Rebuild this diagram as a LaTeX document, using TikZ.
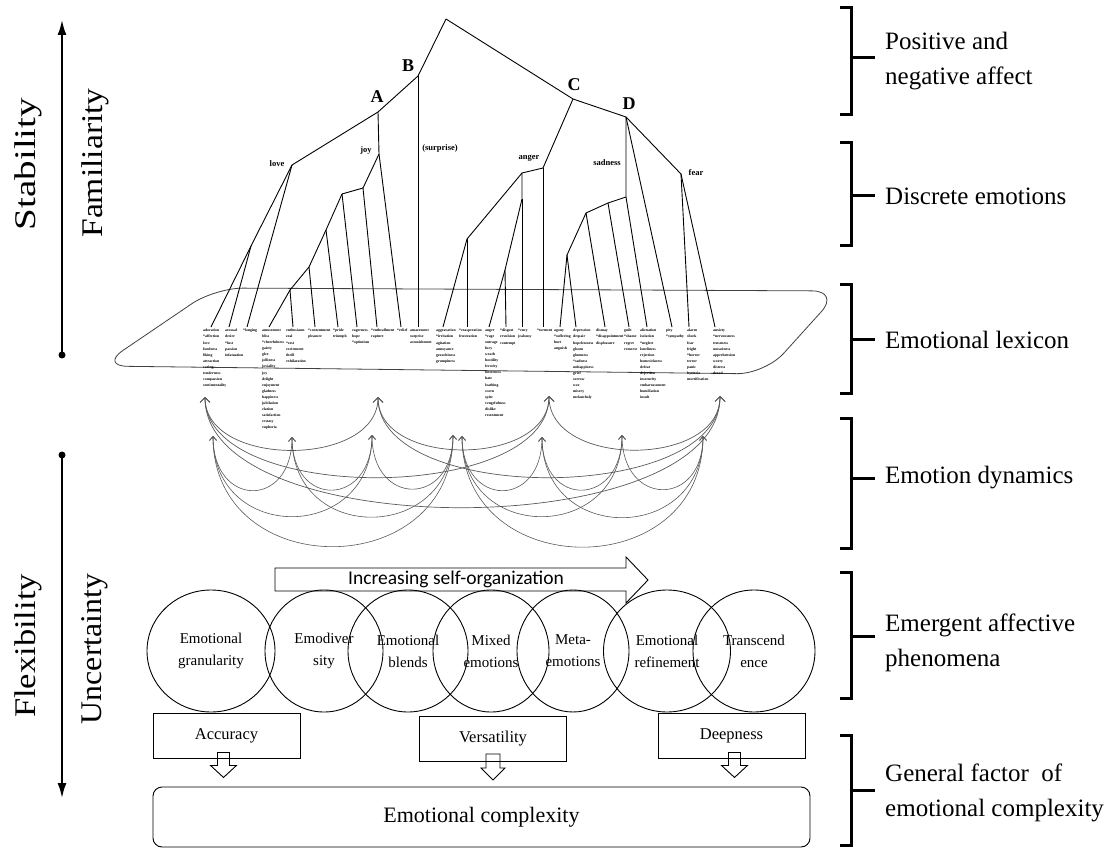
\documentclass[tikz,border=0pt]{standalone}
\usepackage{fontspec}
\usepackage{graphicx}
\setmainfont{Liberation Serif}
\newfontfamily\calib{Carlito}
\usetikzlibrary{arrows.meta,calc,shapes.geometric}
\begin{document}
\begin{tikzpicture}[x=1pt,y=-1pt,
  tree/.style={line width=0.9pt},
  tlbl/.style={font=\fontsize{8.5}{9}\selectfont\bfseries, inner sep=0},
  bigl/.style={font=\fontsize{18}{20}\selectfont\bfseries, inner sep=0},
  lex/.style={font=\fontsize{3.8}{6.1}\selectfont\bfseries, align=left, anchor=north west, inner sep=0},
  arcU/.style={draw=black!65, line width=0.7pt, {Straight Barb[length=5pt,width=10pt]}-{Straight Barb[length=5pt,width=10pt]}},
  arcL/.style={draw=black!65, line width=0.6pt, {Straight Barb[length=4pt,width=7pt]}-{Straight Barb[length=4pt,width=7pt]}},
  circ/.style={draw, ellipse, line width=0.9pt, minimum height=122pt, inner sep=0, align=center, font=\fontsize{15}{22}\selectfont},
  sbox/.style={draw, line width=0.9pt, minimum width=147pt, minimum height=45pt, inner sep=0, font=\fontsize{16.5}{18}\selectfont},
  rlbl/.style={anchor=west, align=left, inner sep=0, font=\fontsize{25}{35}\selectfont},
  llbl/.style={rotate=90, inner sep=0, font=\fontsize{30}{32}\selectfont},
  brk/.style={line width=3pt},
  dotn/.style={circle, fill=black, minimum size=7pt, inner sep=0},
  hol/.style={line width=0.9pt}
]
\useasboundingbox (0,0) rectangle (1114,850);

% ---------- lexicon plane ----------
\draw[line width=0.8pt, draw=black!75, rounded corners=28pt]
  (215,288) -- (840,291) -- (765,374) -- (100,366) -- cycle;

% ---------- tree coordinates ----------
\coordinate (root) at (446,19);
\coordinate (B) at (418,76);
\coordinate (A) at (378,112);
\coordinate (love) at (292,165);
\coordinate (joyN) at (379,154);
\coordinate (C) at (573,99);
\coordinate (D) at (626,117);
\coordinate (angerN) at (543,168);
\coordinate (S0) at (626,197);
\coordinate (fearN) at (681,174);
\coordinate (L1) at (251,246);
\coordinate (J1) at (363,188);
\coordinate (J2) at (342,194);
\coordinate (J3) at (326,230);
\coordinate (J4) at (309,267);
\coordinate (J5) at (290,290);
\coordinate (N1) at (522,173);
\coordinate (N2) at (467,239);
\coordinate (N3) at (522,199);
\coordinate (N4) at (505,270);
\coordinate (S1) at (608,203);
\coordinate (S2) at (586,213);
\coordinate (S3) at (567,255);
\foreach \n/\x in {1/211,2/229,3/247,4/269,5/293,6/315,7/338,8/357,9/377,10/401,11/418,12/443,13/467,14/489,15/506,16/522,17/543,18/560,19/576,20/605,21/629,22/647,23/672,24/689,25/715}
  \coordinate (e\n) at (\x,327);

% ---------- tree edges ----------
\draw[tree] (root) -- (B) -- (A) -- (love);
\draw[tree] (love) -- (L1); \draw[tree] (L1) -- (e1); \draw[tree] (L1) -- (e2); \draw[tree] (love) -- (e3);
\draw[tree] (A) -- (joyN) -- (J1) -- (J2) -- (J3) -- (J4) -- (J5);
\draw[tree] (joyN) -- (e10); \draw[tree] (J1) -- (e9); \draw[tree] (J2) -- (e8);
\draw[tree] (J3) -- (e7); \draw[tree] (J4) -- (e6); \draw[tree] (J5) -- (e4); \draw[tree] (J5) -- (e5);
\draw[tree] (B) -- (e11);
\draw[tree] (root) -- (C) -- (D);
\draw[tree] (C) -- (angerN) -- (N1) -- (N2); \draw[tree] (angerN) -- (e17);
\draw[tree] (N1) -- (N3) -- (N4); \draw[tree] (N2) -- (e12); \draw[tree] (N2) -- (e13);
\draw[tree] (N3) -- (e16); \draw[tree] (N4) -- (e14); \draw[tree] (N4) -- (e15);
\draw[tree] (D) -- (S0) -- (S1) -- (S2) -- (S3);
\draw[tree] (S0) -- (e22); \draw[tree] (S1) -- (e21); \draw[tree] (S2) -- (e20);
\draw[tree] (S3) -- (e18); \draw[tree] (S3) -- (e19);
\draw[tree] (D) -- (e23); \draw[tree] (D) -- (fearN);
\draw[tree] (fearN) -- (e24); \draw[tree] (fearN) -- (e25);

% ---------- tree labels ----------
\node[bigl] (labA) at (377,97) {A};
\node[bigl] (labB) at (408,66) {B};
\node[bigl] (labC) at (574,85) {C};
\node[bigl] (labD) at (629,104) {D};
\node[tlbl] (tlove) at (277,164) {love};
\node[tlbl] (tjoy) at (366,150) {joy};
\node[tlbl] (tsur) at (440,148) {(surprise)};
\node[tlbl] (tang) at (529,158) {anger};
\node[tlbl] (tsad) at (607,163) {sadness};
\node[tlbl] (tfear) at (696,173) {fear};

% ---------- lexicon words ----------
\node[lex] (w1) at (203,329) {adoration\\*affection\\love\\fondness\\liking\\attraction\\caring\\tenderness\\compassion\\sentimentality};
\node[lex] (w2) at (225,329) {arousal\\desire\\*lust\\passion\\infatuation};
\node[lex] (w3) at (243,329) {*longing};
\node[lex] (w4) at (262,329) {amusement\\bliss\\*cheerfulness\\gaiety\\glee\\jolliness\\joviality\\joy\\delight\\enjoyment\\gladness\\happiness\\jubilation\\elation\\satisfaction\\ecstasy\\euphoria};
\node[lex] (w5) at (286,329) {enthusiasm\\zeal\\*zest\\excitement\\thrill\\exhilaration};
\node[lex] (w6) at (308,329) {*contentment\\pleasure};
\node[lex] (w7) at (333,329) {*pride\\triumph};
\node[lex] (w8) at (352,329) {eagerness\\hope\\*optimism};
\node[lex] (w9) at (371,329) {*enthrallment\\rapture};
\node[lex] (w10) at (397,329) {*relief};
\node[lex] (w11) at (410,329) {amazement\\surprise\\astonishment};
\node[lex] (w12) at (436,329) {aggravation\\*irritation\\agitation\\annoyance\\grouchiness\\grumpiness};
\node[lex] (w13) at (459,329) {*exasperation\\frustration};
\node[lex] (w14) at (485,329) {anger\\*rage\\outrage\\fury\\wrath\\hostility\\ferocity\\bitterness\\hate\\loathing\\scorn\\spite\\vengefulness\\dislike\\resentment};
\node[lex] (w15) at (500,329) {*disgust\\revulsion\\contempt};
\node[lex] (w16) at (518,329) {*envy\\jealousy};
\node[lex] (w17) at (537,329) {*torment};
\node[lex] (w18) at (554,329) {agony\\*suffering\\hurt\\anguish};
\node[lex] (w19) at (573,329) {depression\\despair\\hopelessness\\gloom\\glumness\\*sadness\\unhappiness\\grief\\sorrow\\woe\\misery\\melancholy};
\node[lex] (w20) at (596,329) {dismay\\*disappointment\\displeasure};
\node[lex] (w21) at (624,329) {guilt\\*shame\\regret\\remorse};
\node[lex] (w22) at (640,329) {alienation\\isolation\\*neglect\\loneliness\\rejection\\homesickness\\defeat\\dejection\\insecurity\\embarrassment\\humiliation\\insult};
\node[lex] (w23) at (666,329) {pity\\*sympathy};
\node[lex] (w24) at (687,329) {alarm\\shock\\fear\\fright\\*horror\\terror\\panic\\hysteria\\mortification};
\node[lex] (w25) at (713,329) {anxiety\\*nervousness\\tenseness\\uneasiness\\apprehension\\worry\\distress\\dread};

% ---------- emotion dynamics ----------
\coordinate (U1) at (205,397); \coordinate (U2) at (378,397);
\coordinate (U3) at (549,396); \coordinate (U4) at (720,396);
\coordinate (P1) at (213,436); \coordinate (P2) at (292,437);
\coordinate (P3) at (372,435); \coordinate (P4) at (453,435);
\coordinate (P5) at (462,436); \coordinate (P6) at (542,437);
\coordinate (P7) at (622,435); \coordinate (P8) at (703,436);
\draw[arcU] (U1) .. controls +(0,71) and +(0,71) .. (U2);
\draw[arcU] (U2) .. controls +(0,71) and +(0,71) .. (U3);
\draw[arcU] (U3) .. controls +(0,72) and +(0,72) .. (U4);
\draw[arcU] (U1) .. controls +(0,108) and +(0,108) .. (U3);
\draw[arcU] (U2) .. controls +(0,108) and +(0,108) .. (U4);
\draw[arcU] (U1) .. controls +(0,148) and +(0,148) .. (U4);
\draw[arcL] (P1) .. controls +(0,72) and +(0,72) .. (P2);
\draw[arcL] (P2) .. controls +(0,72) and +(0,72) .. (P3);
\draw[arcL] (P3) .. controls +(0,72) and +(0,72) .. (P4);
\draw[arcL] (P5) .. controls +(0,72) and +(0,72) .. (P6);
\draw[arcL] (P6) .. controls +(0,72) and +(0,72) .. (P7);
\draw[arcL] (P7) .. controls +(0,72) and +(0,72) .. (P8);
\draw[arcL] (P1) .. controls +(0,108) and +(0,108) .. (P3);
\draw[arcL] (P2) .. controls +(0,108) and +(0,108) .. (P4);
\draw[arcL] (P5) .. controls +(0,108) and +(0,108) .. (P7);
\draw[arcL] (P6) .. controls +(0,108) and +(0,108) .. (P8);
\draw[arcL] (P1) .. controls +(0,148) and +(0,148) .. (P4);
\draw[arcL] (P5) .. controls +(0,148) and +(0,148) .. (P8);

% ---------- self-organization arrow ----------
\draw[line width=0.9pt] (275,568) -- (626,568) -- (626,557) -- (648,580) -- (626,603) -- (626,591) -- (275,591) -- cycle;
\node[inner sep=0, font=\calib\fontsize{19.5}{20}\selectfont] (selforg) at (456,579) {Increasing self-organization};

% ---------- circles ----------
\node[circ, minimum width=128pt] (c1) at (211,651) {Emotional\\granularity};
\node[circ, minimum width=118pt] (c2) at (324,651) {Emodiver\\sity};
\node[circ, minimum width=120pt] (c3) at (408,651) {Emotional\\blends};
\node[circ, minimum width=116pt] (c4) at (491,651) {Mixed\\emotions};
\node[circ, minimum width=112pt] (c5) at (573,651) {Meta-\\emotions};
\node[circ, minimum width=127pt] (c6) at (667,651) {Emotional\\refinement};
\node[circ, minimum width=122pt] (c7) at (754,651) {Transcend\\ence};

% ---------- factor boxes ----------
\node[sbox] (acc) at (226.5,735.5) {Accuracy};
\node[sbox] (vers) at (493,739) {Versatility};
\node[sbox] (deep) at (731.5,735.5) {Deepness};
\node[draw, line width=0.9pt, rounded corners=9pt, minimum width=657pt, minimum height=60pt, inner sep=0, font=\fontsize{22}{24}\selectfont] (ec) at (481.5,817) {Emotional complexity};
\draw[hol] ($(acc.south)+(-3,0)$) ++(-6,-6) -- ++(0,13) -- ++(-7,0) -- ++(13,12) -- ++(13,-12) -- ++(-7,0) -- ++(0,-13) -- cycle;
\draw[hol] ($(vers.south)+(0,0)$) ++(-7,-8) -- ++(0,14) -- ++(-5,0) -- ++(12,12) -- ++(12,-12) -- ++(-5,0) -- ++(0,-14) -- cycle;
\draw[hol] ($(deep.south)+(3,0)$) ++(-6,-6) -- ++(0,13) -- ++(-7,0) -- ++(13,12) -- ++(13,-12) -- ++(-7,0) -- ++(0,-13) -- cycle;

% ---------- left axis ----------
\node[dotn] (d1) at (62,355) {};
\coordinate (t1) at (62,20);
\draw[line width=2pt, -{Latex[length=15pt,width=9pt]}] (d1.center) -- (t1);
\node[dotn] (d2) at (62,455) {};
\coordinate (t2) at (62,798);
\draw[line width=2pt, -{Latex[length=15pt,width=9pt]}] (d2.center) -- (t2);
\node[llbl] (stab) at (28,164) {\scalebox{1.3}[1]{Stability}};
\node[llbl] (fam) at (95,163) {\scalebox{1.12}[1]{Familiarity}};
\node[llbl] (flex) at (28,646) {\scalebox{1.15}[1]{Flexibility}};
\node[llbl] (unc) at (95,649) {\scalebox{1.06}[1]{Uncertainty}};

% ---------- right brackets ----------
\foreach \t/\b/\m in {8/115/58, 143/246/196, 285/393/340, 418/548/478, 572/698/636, 735/845/790}{
  \draw[brk] (840,\t) -- (851,\t) -- (851,\b) -- (840,\b);
  \draw[brk] (851,\m) -- (875,\m);
}
\node[rlbl] (r1) at (885,61) {Positive and\\negative affect};
\node[rlbl] (r2) at (885,196) {Discrete emotions};
\node[rlbl] (r3) at (885,340) {Emotional lexicon};
\node[rlbl] (r4) at (885,478) {Emotion dynamics};
\node[rlbl] (r5) at (885,643) {Emergent affective\\phenomena};
\node[rlbl] (r6) at (885,793) {General factor~ of\\emotional complexity};
\end{tikzpicture}
\end{document}
